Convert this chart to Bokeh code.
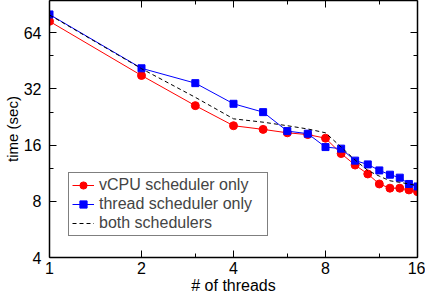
from bokeh.plotting import figure
from bokeh.models import (Range1d, FixedTicker, LogAxis, PrintfTickFormatter,
                          Legend, LegendItem, ColumnDataSource)
from bokeh.embed import file_html
from bokeh.resources import INLINE

threads = [1, 2, 3, 4, 5, 6, 7, 8, 9, 10, 11, 12, 13, 14, 15, 16]
vcpu_only = [73.5, 37.7, 26.0, 20.3, 19.4, 18.6, 18.2, 17.4, 14.4, 12.5, 11.2, 9.9, 9.4, 9.4, 9.2, 9.0]
thread_only = [80.0, 41.2, 34.3, 26.6, 24.0, 19.0, 18.4, 15.6, 15.3, 13.2, 12.6, 11.7, 11.1, 10.7, 9.9, 9.6]
both = [79.5, 41.0, 28.8, 22.1, 21.2, 20.3, 19.5, 18.6, 15.6, 13.3, 11.7, 10.9, 10.3, 10.1, 9.9, 9.7]

x_major = [1, 2, 4, 8, 16]
x_minor = [3, 6, 12]
y_major = [4, 8, 16, 32, 64]
y_minor = [12, 24, 48]

FONT = "Liberation Sans"

src = ColumnDataSource(dict(x=threads, v=vcpu_only, t=thread_only, b=both))

p = figure(width=425, height=300, x_axis_type="log", y_axis_type="log",
           x_range=Range1d(1, 16), y_range=Range1d(4, 95),
           output_backend="svg", toolbar_location=None,
           min_border_left=49, min_border_right=8, min_border_top=0, min_border_bottom=43)
p.xgrid.visible = False
p.ygrid.visible = False
p.outline_line_color = None
p.background_fill_color = "white"
p.border_fill_color = "white"

def style(ax, labels=True):
    ax.major_tick_in = 7
    ax.major_tick_out = 0
    ax.minor_tick_in = 4
    ax.minor_tick_out = 0
    ax.axis_line_width = 1.5
    ax.axis_line_color = "black"
    ax.major_tick_line_width = 1
    ax.minor_tick_line_width = 1
    ax.major_label_text_font = FONT
    ax.major_label_text_color = "black"
    ax.axis_label_text_color = "black"
    if labels:
        ax.major_label_text_font_size = "16px"
    else:
        ax.major_label_text_font_size = "0px"
        ax.major_label_standoff = 0
        ax.axis_label = None

xa = p.xaxis[0]
xa.ticker = FixedTicker(ticks=x_major, minor_ticks=x_minor)
xa.formatter = PrintfTickFormatter(format="%d")
style(xa)
xa.major_label_standoff = 4
xa.axis_label = "# of threads"
xa.axis_label_standoff = 0
xa.axis_label_text_font = FONT
xa.axis_label_text_font_size = "16px"
xa.axis_label_text_font_style = "normal"

ya = p.yaxis[0]
ya.ticker = FixedTicker(ticks=y_major, minor_ticks=y_minor)
ya.formatter = PrintfTickFormatter(format="%d")
style(ya)
ya.major_label_standoff = 8
ya.axis_label = "time (sec)"
ya.axis_label_standoff = 0
ya.axis_label_text_font = FONT
ya.axis_label_text_font_size = "15px"
ya.axis_label_text_font_style = "normal"

top = LogAxis(ticker=FixedTicker(ticks=x_major, minor_ticks=x_minor), formatter=PrintfTickFormatter(format=""))
style(top, labels=False)
p.add_layout(top, "above")
right = LogAxis(ticker=FixedTicker(ticks=y_major, minor_ticks=y_minor), formatter=PrintfTickFormatter(format=""))
style(right, labels=False)
p.add_layout(right, "right")

l1 = p.line("x", "v", source=src, line_color="#ff0000", line_width=1)
s1 = p.scatter("x", "v", source=src, marker="circle", size=8, fill_color="#ff0000", line_color="#ff0000")
l2 = p.line("x", "t", source=src, line_color="#0000ff", line_width=1)
s2 = p.scatter("x", "t", source=src, marker="square", size=7, fill_color="#0000ff", line_color="#0000ff")
l3 = p.line("x", "b", source=src, line_color="black", line_width=1, line_dash="4 3")

legend = Legend(items=[
    LegendItem(label="vCPU scheduler only", renderers=[l1, s1]),
    LegendItem(label="thread scheduler only", renderers=[l2, s2]),
    LegendItem(label="both schedulers", renderers=[l3]),
], location=(19, 21))
legend.label_text_font = FONT
legend.label_text_font_size = "16px"
legend.label_standoff = 5
legend.label_width = 165
legend.glyph_width = 22
legend.glyph_height = 18
legend.spacing = 1
legend.padding = 3
legend.margin = 0
legend.border_line_color = "black"
legend.border_line_width = 1
legend.background_fill_color = "white"
legend.background_fill_alpha = 1
p.add_layout(legend, "center")

open("out.html", "w").write(file_html(p, INLINE))
